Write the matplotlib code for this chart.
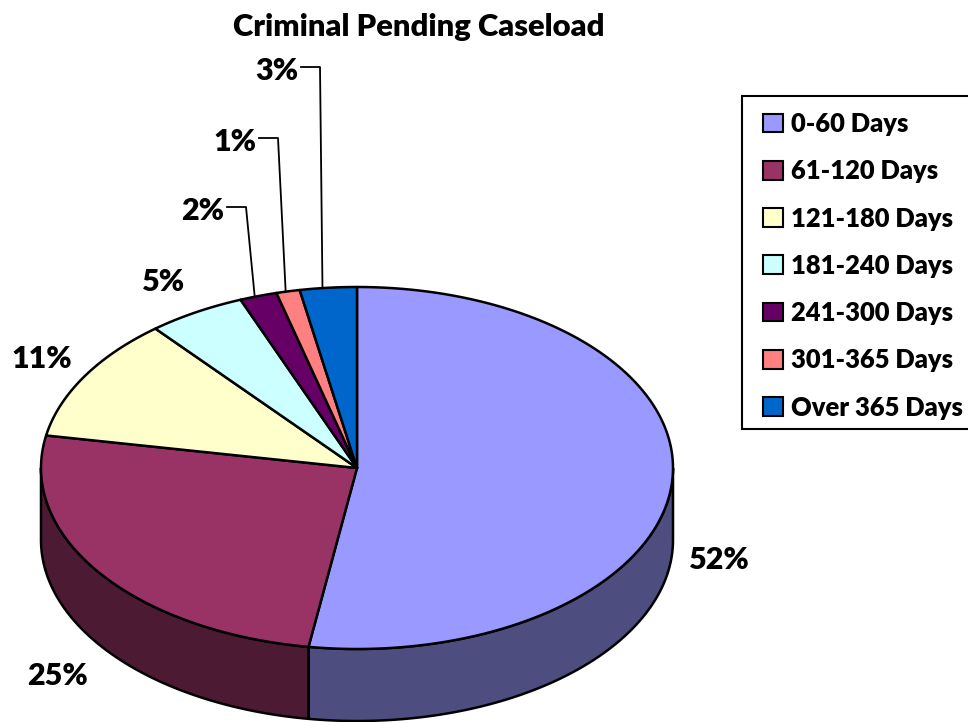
import numpy as np
import matplotlib
matplotlib.use("Agg")
import matplotlib.pyplot as plt
from matplotlib.patches import Polygon, Patch, Rectangle

title = "Criminal Pending Caseload"
categories = ["0-60 Days", "61-120 Days", "121-180 Days", "181-240 Days",
              "241-300 Days", "301-365 Days", "Over 365 Days"]
values = [52.4, 25.4, 11.1, 5.0, 1.9, 1.2, 2.9]
labels = ["52%", "25%", "11%", "5%", "2%", "1%", "3%"]
colors = ["#9999FF", "#993366", "#FFFFCC", "#CCFFFF", "#660066", "#FF8080", "#0066CC"]
side_colors = ["#4D4D80", "#4D1A33", "#808066", "#668080", "#330033", "#804040", "#003366"]
label_pos = [(719, 560), (58, 676), (42, 359), (164, 282), (203, 211), (235, 142), (277, 71)]
leaders = [None, None, None, None, True, True, True]

plt.rcParams["font.family"] = ["Lato", "DejaVu Sans"]
fig = plt.figure(figsize=(9.68, 7.22), dpi=100)
ax = fig.add_axes([0, 0, 1, 1])
ax.set_xlim(0, 968)
ax.set_ylim(722, 0)
ax.axis("off")

cx, cy, a, b, depth = 357, 468, 316, 181, 72


def pt(t):
    return np.column_stack([cx + a * np.sin(t), cy - b * np.cos(t)])


edges = 2 * np.pi * np.concatenate([[0], np.cumsum(values)]) / np.sum(values)
for i in range(len(values)):
    lo, hi = max(edges[i], np.pi / 2), min(edges[i + 1], 3 * np.pi / 2)
    if hi > lo:
        arc = pt(np.linspace(lo, hi, 120))
        wall = np.vstack([arc, (arc + [0, depth])[::-1]])
        ax.add_patch(Polygon(wall, closed=True, fc=side_colors[i], ec="black", lw=1.8, joinstyle="round", zorder=2))
for i in range(len(values)):
    arc = pt(np.linspace(edges[i], edges[i + 1], 200))
    ax.add_patch(Polygon(np.vstack([[cx, cy], arc]), closed=True, fc=colors[i], ec="black", lw=1.8,
                         joinstyle="round", zorder=3))

for i, (lab, (x, y)) in enumerate(zip(labels, label_pos)):
    ax.text(x, y, lab, ha="center", va="center", fontsize=22, fontweight="heavy", color="black", zorder=5)
    if leaders[i]:
        anchor = pt(np.array([edges[i] + 0.4 * (edges[i + 1] - edges[i])]))[0]
        ax.plot([x + 24, x + 43, anchor[0]], [y - 4, y - 4, anchor[1]], color="black", lw=1.3, zorder=1)

ax.text(419, 27, title, ha="center", va="center", fontsize=22.3, fontweight="heavy", color="black")

ax.add_patch(Rectangle((742, 96), 240, 333, fc="white", ec="black", lw=1.5, zorder=4))
handles = [Patch(fc=c, ec="black", lw=1.5) for c in colors]
leg = ax.legend(handles, categories, loc="upper left", bbox_to_anchor=(763 / 968, 1 - 112 / 722),
                bbox_transform=fig.transFigure, frameon=False,
                borderpad=0, labelspacing=0.91, handlelength=0.78, handleheight=0.75,
                handletextpad=0.32, borderaxespad=0, prop={"size": 18.4, "weight": "heavy"})
leg.set_zorder(6)

fig.savefig("out.png", dpi=100, facecolor="white")
